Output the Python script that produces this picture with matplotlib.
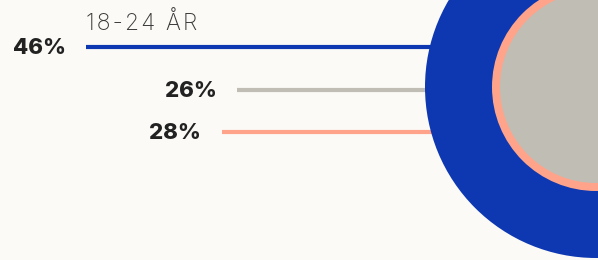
import matplotlib.pyplot as plt
from matplotlib.patches import Circle

title = "18-24 ÅR"
labels = ["46%", "26%", "28%"]
values = [46, 26, 28]
colors = ["#0E38B1", "#C0BDB5", "#FFA48A"]

bg = "#FBFAF6"
text_color = "#222222"

fig = plt.figure(figsize=(5.98, 2.60), dpi=100)
fig.patch.set_facecolor(bg)
ax = fig.add_axes([0, 0, 1, 1])
ax.set_facecolor(bg)
ax.set_xlim(0, 598)
ax.set_ylim(260, 0)
ax.set_aspect("equal")
ax.axis("off")

# nested circles, cut off by the right edge
cx, cy = 596, 87
ax.add_patch(Circle((cx, cy), 171, color=colors[0], zorder=3, lw=0))
ax.add_patch(Circle((cx, cy), 104, color=colors[2], zorder=4, lw=0))
ax.add_patch(Circle((cx, cy), 96, color=colors[1], zorder=5, lw=0))

# leader lines with labels
line_y = [47, 90, 132]
line_x0 = [86, 237, 222]
label_x = [66, 217, 201]
for lab, c, y, x0, lx in zip(labels, colors, line_y, line_x0, label_x):
    ax.plot([x0, 500], [y, y], color=c, lw=3.0, solid_capstyle="butt", zorder=2)
    ax.text(lx, y + 1, lab, ha="right", va="center", fontsize=16,
            fontweight="heavy", family="Inter", color=text_color)

# tracked-out title (hair spaces between letters)
spaced_title = "\u200a".join(title)
ax.text(86, 24, spaced_title, ha="left", va="center", fontsize=16.5,
        fontweight="light", family="Inter", color="#3a3a3a")

fig.savefig("out.png", dpi=100, facecolor=bg)
